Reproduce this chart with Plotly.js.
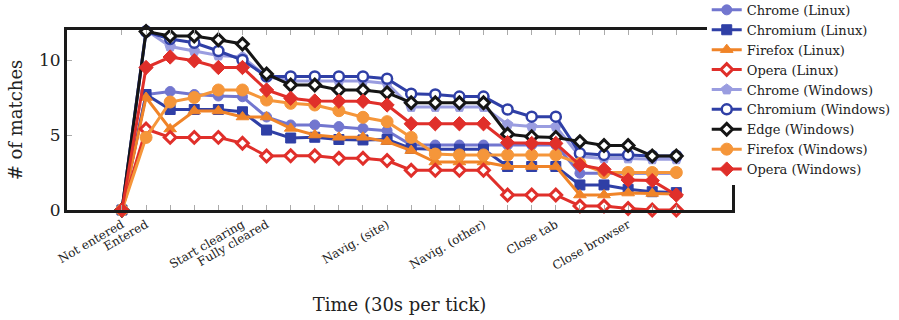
<!DOCTYPE html>
<html><head><meta charset="utf-8">
<script src="https://cdn.plot.ly/plotly-3.0.1.min.js"></script>
<style>html,body{margin:0;padding:0;background:#fff;}#chart{width:899px;height:320px;}</style>
</head><body><div id="chart"></div>
<script>
// ---- data ----
const seriesNames = ['Chrome (Linux)','Chromium (Linux)','Firefox (Linux)','Opera (Linux)',
  'Chrome (Windows)','Chromium (Windows)','Edge (Windows)','Firefox (Windows)','Opera (Windows)'];

const chromeLinux    = [0, 7.7, 7.9, 7.7, 7.6, 7.55, 6.2, 5.67, 5.67, 5.56, 5.44, 5.29, 4.33, 4.33, 4.33, 4.33, 4.33, 4.33, 4.33, 2.45, 2.45, 2.45, 2.45, 2.45];
const chromiumLinux  = [0, 7.7, 6.7, 6.7, 6.7, 6.55, 5.33, 4.8, 4.85, 4.7, 4.67, 4.7, 4.1, 4.05, 4.05, 4.05, 2.9, 2.9, 2.9, 1.67, 1.67, 1.38, 1.22, 1.16];
const firefoxLinux   = [0, 7.5, 5.4, 6.6, 6.6, 6.2, 6.2, 5.44, 5.0, 4.85, 4.85, 4.56, 3.96, 3.2, 3.2, 3.2, 2.9, 2.9, 2.9, 1.0, 1.0, 1.13, 1.1, 1.07];
const operaLinux     = [0, 5.4, 4.84, 4.84, 4.84, 4.45, 3.6, 3.62, 3.62, 3.45, 3.45, 3.3, 2.65, 2.65, 2.65, 2.65, 1.0, 1.0, 1.0, 0.27, 0.27, 0.1, 0, 0];
const chromeWindows  = [0, 12.0, 10.9, 10.6, 10.3, 10.2, 8.9, 8.6, 8.6, 8.6, 8.6, 8.44, 6.87, 6.87, 6.87, 6.87, 5.7, 5.56, 5.56, 3.56, 3.44, 3.44, 3.38, 3.38];
const chromiumWindows= [0, 11.9, 11.4, 11.15, 10.6, 10.0, 8.9, 8.9, 8.9, 8.9, 8.9, 8.75, 7.75, 7.7, 7.56, 7.56, 6.7, 6.22, 6.22, 3.78, 3.67, 3.67, 3.6, 3.6];
const edgeWindows    = [0, 11.9, 11.6, 11.6, 11.35, 11.07, 9.07, 8.33, 8.33, 8.0, 8.0, 7.82, 7.15, 7.15, 7.15, 7.15, 5.05, 4.89, 4.84, 4.56, 4.3, 4.3, 3.6, 3.6];
const firefoxWindows = [0, 4.84, 7.2, 7.5, 8.0, 8.0, 7.33, 7.11, 7.0, 6.62, 6.18, 5.89, 4.84, 3.73, 3.67, 3.67, 3.67, 3.67, 3.67, 3.1, 2.5, 2.5, 2.5, 2.5];
const operaWindows   = [0, 9.5, 10.2, 9.95, 9.5, 9.5, 8.0, 7.45, 7.27, 7.25, 7.25, 7.0, 5.75, 5.75, 5.75, 5.75, 4.49, 4.44, 4.44, 3.0, 2.71, 2.0, 1.96, 1.0];

const eventTicks  = [0, 1, 5, 6, 11, 15, 18, 21];
const eventLabels = ['Not entered','Entered','Start clearing','Fully cleared','Navig. (site)','Navig. (other)','Close tab','Close browser'];
const yTicks = [0, 5, 10];

// ---- styles ----
const seriesValues = [chromeLinux, chromiumLinux, firefoxLinux, operaLinux, chromeWindows, chromiumWindows, edgeWindows, firefoxWindows, operaWindows];
const styles = [
  {c:'#7276cf', sym:'circle',      fill:'#7276cf', size:10, lw:1},
  {c:'#2f3fa6', sym:'square',      fill:'#2f3fa6', size:10, lw:1},
  {c:'#f08428', sym:'triangle-up', fill:'#f08428', size:11, lw:1},
  {c:'#e02f2a', sym:'diamond',     fill:'#ffffff', size:9,  lw:3},
  {c:'#9a9de0', sym:'pentagon',    fill:'#9a9de0', size:11, lw:1},
  {c:'#2f3fa6', sym:'circle',      fill:'#ffffff', size:10, lw:2.5},
  {c:'#151515', sym:'diamond',     fill:'#ffffff', size:9,  lw:3},
  {c:'#f5963a', sym:'circle',      fill:'#f5963a', size:12, lw:1},
  {c:'#e02f2a', sym:'diamond',     fill:'#e02f2a', size:11, lw:1}
];

const traces = seriesValues.map((vals, k) => ({
  type:'scatter', mode:'lines+markers', name: seriesNames[k],
  x: vals.map((_, i) => i), y: vals,
  cliponaxis:false,
  line:{color:styles[k].c, width:3},
  marker:{symbol:styles[k].sym, size:styles[k].size, color:styles[k].fill,
          line:{color:styles[k].c, width:styles[k].lw}}
}));

const allTicks = chromeLinux.map((_, i) => i);
const tickText = allTicks.map(i => { const j = eventTicks.indexOf(i); return j >= 0 ? eventLabels[j] : ''; });

const serif = 'DejaVu Serif, Liberation Serif, serif';
const layout = {
  width:899, height:320,
  margin:{l:67, r:167, t:30, b:110, autoexpand:false},
  paper_bgcolor:'#fff', plot_bgcolor:'#fff',
  font:{family:serif, color:'#222'},
  showlegend:true,
  legend:{x:0.962, y:1.195, xanchor:'left', yanchor:'top', bgcolor:'#fff', borderwidth:0,
          maxheight:400, font:{family:serif, size:13, color:'#222'}},
  xaxis:{range:[-2.28, 25.31], tickmode:'array', tickvals:allTicks, ticktext:tickText,
         tickangle:-30, ticks:'inside', ticklen:5, tickwidth:1, tickcolor:'#aaa',
         showline:true, linewidth:3, linecolor:'#1a1a1a', mirror:'allticks',
         showgrid:false, zeroline:false, tickfont:{family:serif, size:12, color:'#222'},
         title:{text:'Time (30s per tick)', font:{family:serif, size:18, color:'#222'}, standoff:27}},
  yaxis:{range:[0, 12], tickmode:'array', tickvals:yTicks, ticks:'inside', ticklen:5, tickwidth:1, tickcolor:'#aaa',
         showline:true, linewidth:3, linecolor:'#1a1a1a', mirror:'allticks',
         showgrid:false, zeroline:false, tickfont:{family:serif, size:17, color:'#222'},
         title:{text:'# of matches', font:{family:serif, size:18, color:'#222'}, standoff:12}}
};

Plotly.newPlot('chart', traces, layout, {staticPlot:true, displayModeBar:false});
</script>
</body></html>
